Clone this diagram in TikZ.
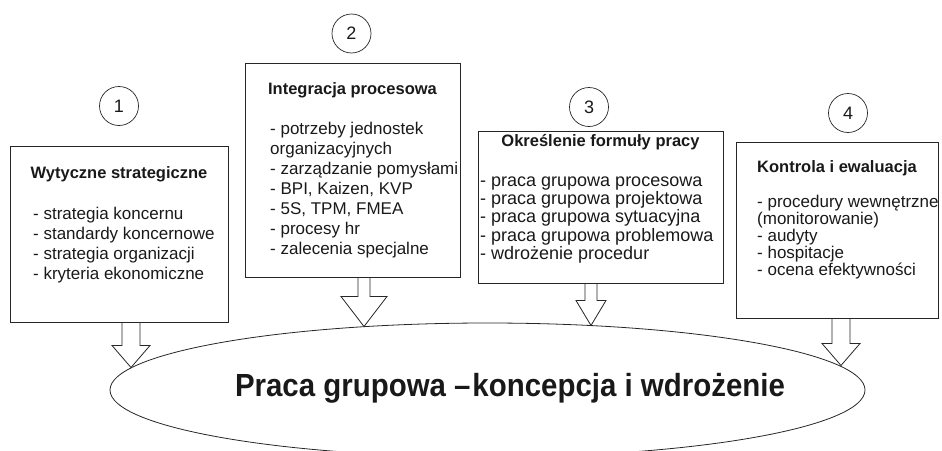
\documentclass[tikz,border=0pt]{standalone}
\usepackage{fontspec}
\setmainfont{Liberation Sans}
\usepackage{graphicx}
\usetikzlibrary{shapes.geometric,calc,positioning}

% hollow block arrow: box, tip, shaft half width, head half width, head length
\newcommand{\fatarrow}[5]{%
  \draw[fatarrow] ($(#2 |- #1.south)+(-#3pt,0pt)$) -- ($(#2)+(-#3pt,#5pt)$)
    -- ($(#2)+(-#4pt,#5pt)$) -- (#2) -- ($(#2)+(#4pt,#5pt)$)
    -- ($(#2)+(#3pt,#5pt)$) -- ($(#2 |- #1.south)+(#3pt,0pt)$);}

\begin{document}
\begin{tikzpicture}[x=1pt, y=-1pt,
    stagebox/.style={draw=black!85, line width=1pt, inner sep=0pt},
    stagetitle/.style={font=\bfseries\fontsize{16.5}{20}\selectfont, inner sep=0pt, anchor=base, text=black!90},
    stagelist/.style={align=left, inner sep=0pt, anchor=north west, text=black!90,
                      font=\fontsize{17}{20}\selectfont},
    stepnum/.style={draw=black!85, circle, line width=0.7pt, minimum size=39pt, inner sep=0pt,
                    font=\fontsize{18}{20}\selectfont, text=black!90},
    fatarrow/.style={draw=black!85, line width=0.8pt, line join=miter},
    goal/.style={draw=black!85, ellipse, line width=0.8pt, inner sep=0pt}]
    \useasboundingbox (0,0) rectangle (942,450);
    \clip (0,0) rectangle (942,450);

    % stages
    \node[stagebox, minimum width=218pt, minimum height=176pt] (wytyczne) at (119,234) {};
    \node[stagebox, minimum width=215pt, minimum height=214pt] (integracja) at (352.5,170) {};
    \node[stagebox, minimum width=245pt, minimum height=152pt] (formula) at (600.5,207) {};
    \node[stagebox, minimum width=202pt, minimum height=176pt] (kontrola) at (837,230) {};

    \node[stepnum] (n1) at (119,106) {1};
    \node[stepnum] (n2) at (351.5,33.5) {2};
    \node[stepnum] (n3) at (589,107) {3};
    \node[stepnum] (n4) at (848,113) {4};

    \node[stagetitle] (wytycznetitle) at (119,178.5) {Wytyczne strategiczne};
    \node[stagelist] (wytycznelist) at (33,207) {- strategia koncernu\\
        - standardy koncernowe\\ - strategia organizacji\\ - kryteria ekonomiczne};

    \node[stagetitle] (integracjatitle) at (352.5,94) {Integracja procesowa};
    \node[stagelist] (integracjalist) at (270,122) {- potrzeby jednostek\\ organizacyjnych\\
        - zarządzanie pomysłami\\ - BPI, Kaizen, KVP\\ - 5S, TPM, FMEA\\
        - procesy hr\\ - zalecenia specjalne};

    \node[stagetitle] (formulatitle) at (600.5,146) {Określenie formuły pracy};
    \node[stagelist, font=\fontsize{18}{18.3}\selectfont] (formulalist) at (480,176.5)
        {- praca grupowa procesowa\\ - praca grupowa projektowa\\
        - praca grupowa sytuacyjna\\ - praca grupowa problemowa\\ - wdrożenie procedur};

    \node[stagetitle] (kontrolatitle) at (837,172.5) {Kontrola i ewaluacja};
    \node[stagelist, font=\fontsize{17}{17}\selectfont] (kontrolalist) at (757,195)
        {- procedury wewnętrzne\\ (monitorowanie)\\ - audyty\\ - hospitacje\\ - ocena efektywności};

    % goal
    \node[goal, minimum width=755pt, minimum height=134pt] (praca) at (487.5,390) {};
    \node[anchor=base, inner sep=0pt, text=black!90] (pracatitle) at (510,396.5)
        {\bfseries\fontsize{32}{36}\selectfont\scalebox{0.92}[1]{Praca grupowa –\hspace{2pt}koncepcja i wdrożenie}};

    \coordinate (tipA) at (131,367.5);
    \coordinate (tipB) at (364,326.5);
    \coordinate (tipC) at (591,325.5);
    \coordinate (tipD) at (841,365.5);

    \fatarrow{wytyczne}{tipA}{9}{19}{22}
    \fatarrow{integracja}{tipB}{6}{23}{30}
    \fatarrow{formula}{tipC}{6}{15}{25}
    \fatarrow{kontrola}{tipD}{9}{19}{22}
\end{tikzpicture}
\end{document}
